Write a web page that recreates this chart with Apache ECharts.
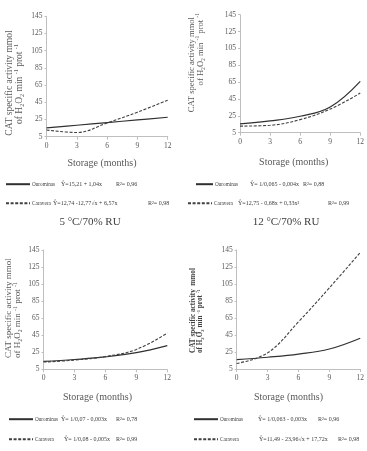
<!DOCTYPE html>
<html>
<head>
<meta charset="utf-8">
<script src="https://cdn.jsdelivr.net/npm/echarts@6/dist/echarts.min.js"></script>
<style>
html,body{margin:0;padding:0;background:#fff;}
#c{width:367px;height:451px;}
</style>
</head>
<body>
<div id="c"></div>
<script>
// ---- data ----
var months = [0, 3, 6, 9, 12];
var yTicks = [5, 25, 45, 65, 85, 105, 125, 145];

var p1Ourominas = [15.2, 18.3, 21.4, 24.5, 27.6];
var p1Caravera  = [12.8, 9.9, 21.0, 33.5, 47.5];
var p2Ourominas = [15.5, 19.0, 24.5, 35.5, 66.0];
var p2Caravera  = [12.8, 13.8, 20.5, 33.0, 52.0];
var p3Ourominas = [14.3, 16.5, 19.5, 24.5, 32.8];
var p3Caravera  = [13.5, 15.8, 20.0, 28.3, 47.5];
var p4Ourominas = [16.0, 18.8, 22.5, 28.5, 41.2];
var p4Caravera  = [11.5, 24.0, 60.5, 100.5, 142.0];

var seriesNames = ['Ourominas', 'Caravera'];
var panelTitles = ['5 °C/70% RU', '12 °C/70% RU'];
var xTitle = 'Storage (months)';
var yTitle1 = 'CAT specific activity mmol';
var yTitle1b = 'CAT specific activity  mmol';
var eqs = [
  ['Ŷ=15,21 + 1,04x', 'R²= 0,96', 'Ŷ=12,74 -12,77√x + 6,57x', 'R²= 0,98'],
  ['Ŷ= 1/0,065 - 0,004x', 'R²= 0,88', 'Ŷ=12,75 - 0,68x + 0,33x²', 'R²= 0,99'],
  ['Ŷ= 1/0,07 - 0,003x', 'R²= 0,78', 'Ŷ= 1/0,08 - 0,005x', 'R²= 0,99'],
  ['Ŷ= 1/0,063 - 0,003x', 'R²= 0,96', 'Ŷ=11,49 - 23,96√x + 17,72x', 'R²= 0,98']
];

// ---- build ----
var FONT = 'Liberation Serif';
var GRAY = '#595959';
var AX = '#bfbfbf';

function pairs(vals) { return months.map(function (m, i) { return [m, vals[i]]; }); }

var grids = [
  {left: 46.5, top: 16.3, width: 121.2, height: 120.4},
  {left: 240, top: 14.7, width: 120.3, height: 118},
  {left: 43.5, top: 250, width: 123.8, height: 119.3},
  {left: 236.7, top: 250, width: 124, height: 119}
];
var panelData = [
  [p1Ourominas, p1Caravera],
  [p2Ourominas, p2Caravera],
  [p3Ourominas, p3Caravera],
  [p4Ourominas, p4Caravera]
];

var xAxes = [], yAxes = [], series = [];
grids.forEach(function (g, i) {
  xAxes.push({
    gridIndex: i, type: 'value', min: 0, max: 12, interval: 3,
    axisLine: {lineStyle: {color: AX, width: 1}},
    axisTick: {show: true, length: 3, lineStyle: {color: AX}},
    splitLine: {show: false},
    axisLabel: {fontFamily: FONT, fontSize: 7.5, color: GRAY, margin: 5}
  });
  yAxes.push({
    gridIndex: i, type: 'value', min: yTicks[0], max: yTicks[yTicks.length - 1], interval: 20,
    axisLine: {show: true, lineStyle: {color: AX, width: 1}},
    axisTick: {show: true, length: 2, lineStyle: {color: AX}},
    splitLine: {show: false},
    axisLabel: {fontFamily: FONT, fontSize: 7.5, color: GRAY, margin: 4}
  });
  series.push({
    name: seriesNames[0], type: 'line', xAxisIndex: i, yAxisIndex: i,
    data: pairs(panelData[i][0]), smooth: 0.4, symbol: 'none',
    lineStyle: {color: '#303030', width: 1.2, type: 'solid'}, itemStyle: {color: '#303030'}
  });
  series.push({
    name: seriesNames[1], type: 'line', xAxisIndex: i, yAxisIndex: i,
    data: pairs(panelData[i][1]), smooth: 0.4, symbol: 'none',
    lineStyle: {color: '#404040', width: 1.1, type: [3, 1.6]}, itemStyle: {color: '#404040'}
  });
});

// legends: [panel, row, left, centerY, itemWidth, nameW, eqW]
var legSpec = [
  [0, 0, 5, 185, 24, 29, 55],
  [0, 1, 5, 204, 24, 21, 95],
  [1, 0, 195, 185, 17, 35, 53],
  [1, 1, 187, 204, 24, 24, 90],
  [2, 0, 8, 420, 24, 26, 55],
  [2, 1, 8, 440, 24, 29, 52],
  [3, 0, 193, 420, 24, 38, 60],
  [3, 1, 193, 440, 24, 39, 79]
];
var NFS = 5.2, EFS = 6, RFS = 6;
var legends = legSpec.map(function (s) {
  var p = s[0], r = s[1];
  var nm = seriesNames[r];
  var eq = eqs[p][r * 2], r2 = eqs[p][r * 2 + 1];
  return {
    data: [nm], left: s[2], top: s[3] - 4, orient: 'horizontal',
    itemWidth: s[4], itemHeight: 8, itemGap: 0, padding: 0, selectedMode: false,
    itemStyle: {color: 'rgba(0,0,0,0)', borderWidth: 0, opacity: 0},
    formatter: function () { return '{n|' + nm + '}{e|' + eq + '}{r|' + r2 + '}'; },
    textStyle: {
      fontFamily: FONT, fontSize: EFS, color: '#404040', padding: [0, 0, 0, -3],
      rich: {
        n: {fontFamily: FONT, fontSize: NFS, color: '#404040', width: s[5]},
        e: {fontFamily: FONT, fontSize: EFS, color: '#404040', width: s[6]},
        r: {fontFamily: FONT, fontSize: RFS, color: '#404040'}
      }
    }
  };
});

function yLine2() {
  return 'of H{sub|2}O{sub|2} min {sup|-1} prot {sup|-1}';
}
function richSub(fs, bold, color) {
  return {
    sub: {fontFamily: FONT, fontSize: fs * 0.65, fontWeight: bold ? 'bold' : 'normal', fill: color, verticalAlign: 'bottom', lineHeight: fs * 1.3},
    sup: {fontFamily: FONT, fontSize: fs * 0.65, fontWeight: bold ? 'bold' : 'normal', fill: color, verticalAlign: 'top', lineHeight: fs * 1.3}
  };
}
function yText(x, y, txt, fs, align, bold, color, rich) {
  return {
    type: 'text', x: x, y: y, rotation: Math.PI / 2, silent: true,
    style: {
      text: txt, font: (bold ? 'bold ' : '') + fs + 'px "' + FONT + '"', fill: color,
      textAlign: align, textVerticalAlign: 'middle', rich: rich, lineHeight: fs * 1.3
    }
  };
}
function plainText(x, y, txt, fs, color) {
  return {
    type: 'text', x: x, y: y, silent: true,
    style: {text: txt, font: fs + 'px "' + FONT + '"', fill: color, textAlign: 'center', textVerticalAlign: 'middle'}
  };
}

var graphics = [
  // y-axis titles
  yText(9, 83, yTitle1, 9.5, 'center', false, GRAY),
  yText(19.5, 84, yLine2(), 9.5, 'center', false, GRAY, richSub(9.5, false, GRAY)),
  yText(192, 17, yTitle1, 8.6, 'right', false, GRAY),
  yText(200.5, 13, yLine2(), 8.6, 'right', false, GRAY, richSub(8.6, false, GRAY)),
  yText(9, 358, yTitle1, 9, 'left', false, GRAY),
  yText(18, 358, yLine2(), 9, 'left', false, GRAY, richSub(9, false, GRAY)),
  yText(193, 353, yTitle1b, 7.2, 'left', true, '#404040'),
  yText(200.5, 353, yLine2(), 7.2, 'left', true, '#404040', richSub(7.2, true, '#404040')),
  // x-axis titles
  plainText(102, 163, xTitle, 10, GRAY),
  plainText(293.7, 162, xTitle, 10, GRAY),
  plainText(97.5, 397, xTitle, 10, GRAY),
  plainText(288.5, 397, xTitle, 10, GRAY),
  // panel titles
  plainText(90, 222, panelTitles[0], 11, '#404040'),
  plainText(286, 222, panelTitles[1], 11, '#404040')
];

var chart = echarts.init(document.getElementById('c'), null, {renderer: 'canvas'});
chart.setOption({
  animation: false,
  backgroundColor: '#ffffff',
  grid: grids,
  xAxis: xAxes,
  yAxis: yAxes,
  series: series,
  legend: legends,
  graphic: {elements: graphics}
});
</script>
</body>
</html>
